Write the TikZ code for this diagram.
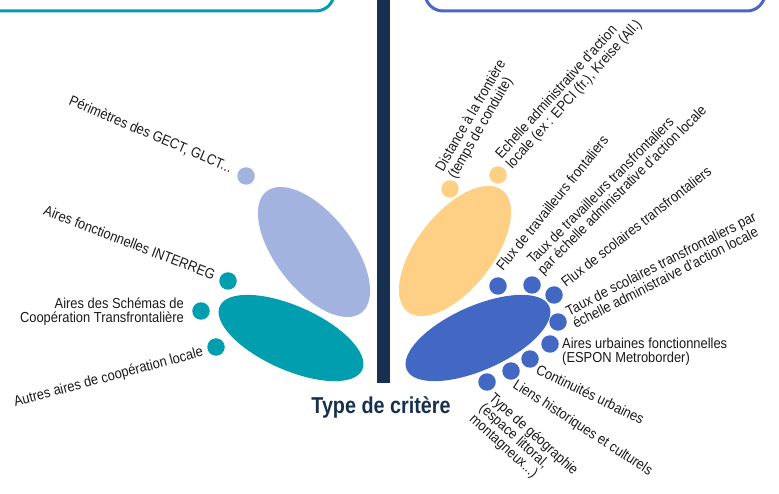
\documentclass[tikz,border=0pt]{standalone}
\usepackage{fontspec}
\setmainfont{Liberation Sans}[FakeStretch=0.89]
\newfontfamily\titlefont{Liberation Sans}[FakeStretch=0.86]
\usetikzlibrary{shapes.geometric}

\definecolor{coopteal}{HTML}{009EAE}
\definecolor{lavender}{HTML}{A2B3E0}
\definecolor{sand}{HTML}{FED085}
\definecolor{flowblue}{HTML}{4268C3}
\definecolor{framblue}{HTML}{4A66C8}
\definecolor{navy}{HTML}{17304F}
\definecolor{ink}{HTML}{1A1A1A}

\begin{document}
\begin{tikzpicture}[x=1pt,y=-1pt]
\useasboundingbox (0,0) rectangle (779,494);
\clip (0,0) rectangle (779,494);

        % frames at the top
        \draw[coopteal, line width=3pt, rounded corners=18pt] (-40,-40) rectangle (334,11);
        \draw[framblue, line width=3pt, rounded corners=18pt] (425,-40) rectangle (765,11);

        % middle bar
        \fill[navy] (377,0) rectangle (390,383);

        \begin{scope}[every node/.style={ellipse,inner sep=0pt}]
          \node[fill=lavender, minimum width=154pt, minimum height=76pt, rotate=-52] (e1) at (314,252) {};
          \node[fill=coopteal, minimum width=156pt, minimum height=64pt, rotate=-24] (e2) at (291,338) {};
          \node[fill=sand,     minimum width=154pt, minimum height=76pt, rotate=52]  (e3) at (455,251) {};
          \node[fill=flowblue, minimum width=156pt, minimum height=64pt, rotate=24]  (e4) at (478,338) {};
        \end{scope}

        \begin{scope}[every node/.style={circle,inner sep=0pt,minimum size=17.5pt}]
          \node[fill=lavender] (1)  at (246,176) {};
          \node[fill=coopteal] (2)  at (228,281) {};
          \node[fill=coopteal] (3)  at (201,311) {};
          \node[fill=coopteal] (4)  at (216,347) {};
          \node[fill=sand]     (5)  at (450,189) {};
          \node[fill=sand]     (6)  at (498,175) {};
          \node[fill=flowblue] (7)  at (498,286) {};
          \node[fill=flowblue] (8)  at (532,285) {};
          \node[fill=flowblue] (9)  at (554,295) {};
          \node[fill=flowblue] (10) at (558,322) {};
          \node[fill=flowblue] (11) at (550,344) {};
          \node[fill=flowblue] (12) at (530,359) {};
          \node[fill=flowblue] (13) at (511,371) {};
          \node[fill=flowblue] (14) at (487,382) {};
        \end{scope}

        \begin{scope}[every node/.style={inner sep=0pt,text=ink,font=\fontsize{14.5}{14.5}\selectfont}]
          \node[anchor=base east, rotate=-23] (t1) at (230,173) {Périmètres des GECT, GLCT...};
          \node[anchor=base east, rotate=-21] (t2) at (213,280) {Aires fonctionnelles INTERREG};
          \node[anchor=east, align=right] (t3) at (184,311.5) {Aires des Schémas de\\Coopération Transfrontalière};
          \node[anchor=base east, rotate=15] (t4) at (204,356) {Autres aires de coopération locale};

          \node[anchor=west, align=left, rotate=60] (t5) at (446,174) {Distance à la frontière\\(temps de conduite)};
          \node[anchor=west, align=left, rotate=48] (t6) at (504,162) {Echelle administrative d'action\\locale (ex : EPCI (fr.), Kreise (All.)};
          \node[anchor=base west, rotate=51] (t7) at (503,272) {Flux de travailleurs frontaliers};
          \node[anchor=west, align=left, rotate=45] (t8) at (535.5,267.5) {Taux de travailleurs transfrontaliers\\par échelle administrative d'action locale};
          \node[anchor=base west, rotate=38] (t9) at (566,288) {Flux de scolaires transfrontaliers};
          \node[anchor=west, align=left, rotate=27] (t10) at (570,318) {Taux de scolaires transfrontaliers par\\échelle administraive d'action locale};
          \node[anchor=west, align=left] (t11) at (562,351.5) {Aires urbaines fonctionnelles\\(ESPON Metroborder)};
          \node[anchor=base west, rotate=-26] (t12) at (535,373) {Continuités urbaines};
          \node[anchor=base west, rotate=-33] (t13) at (512,387) {Liens historiques et culturels};
          \node[anchor=west, align=left, rotate=-42] (t14) at (481,407) {Type de géographie\\(espace littoral,\\montagneux...)};
        \end{scope}

        \node[anchor=base, inner sep=0pt, text=navy, font=\titlefont\bfseries\fontsize{23}{23}\selectfont] (title) at (381,413) {Type de critère};

\end{tikzpicture}
\end{document}
